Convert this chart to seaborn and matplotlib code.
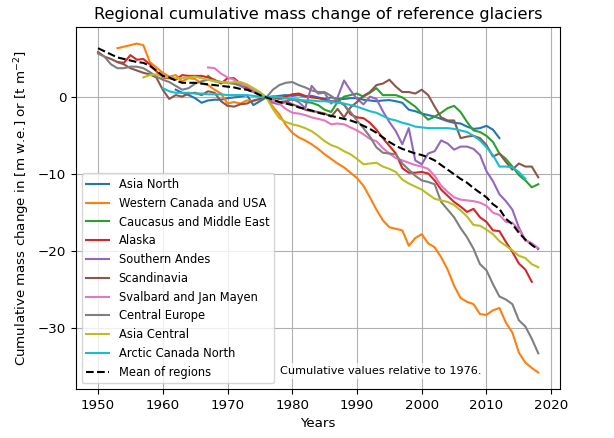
import numpy as np
import pandas as pd
import matplotlib
matplotlib.use("Agg")
import matplotlib.pyplot as plt
import seaborn as sns

# ---------------- data ----------------
regions = ["Asia North", "Western Canada and USA", "Caucasus and Middle East",
           "Alaska", "Southern Andes", "Scandinavia", "Svalbard and Jan Mayen",
           "Central Europe", "Asia Central", "Arctic Canada North"]

start_years = {
    "Asia North": 1962,
    "Western Canada and USA": 1953,
    "Caucasus and Middle East": 1967,
    "Alaska": 1953,
    "Southern Andes": 1976,
    "Scandinavia": 1950,
    "Svalbard and Jan Mayen": 1967,
    "Central Europe": 1950,
    "Asia Central": 1957,
    "Arctic Canada North": 1960,
}

asia_north = [1.0, 0.6, 0.3, -0.1, -0.7, -0.4, -0.3, -0.3, -0.1, 0.0,
              0.1, 0.3, -1.0, -0.5, 0.0, 0.1, 0.2, 0.3, 0.2, 0.3,
              0.1, 0.2, 0.0, -0.2, 0.0, -0.2, -0.2, -0.1, -0.1, -0.3,
              -0.4, -0.5, -0.4, -0.35, -0.5, -0.7, -1.6, -1.8, -2.1, -2.3,
              -2.5, -2.8, -3.1, -3.3, -3.4, -3.8, -4.1, -4.0, -3.7, -4.2,
              -5.3]
western_canada_usa = [6.4, 6.6, 6.8, 7.0, 6.8, 4.6, 3.9, 3.2, 2.7, 2.9,
                      2.1, 2.5, 2.4, 1.8, 1.6, 1.0, 0.5, -0.8, -0.6, -0.8,
                      -0.4, -0.5, -0.2, 0.0, -1.2, -2.2, -3.6, -4.6, -5.2, -5.6,
                      -6.1, -6.7, -7.4, -8.0, -8.6, -9.1, -9.8, -10.5, -11.5, -13.0,
                      -14.6, -16.0, -16.9, -17.1, -17.3, -19.3, -18.3, -17.8, -19.0, -19.5,
                      -20.8, -22.4, -24.5, -26.1, -26.6, -26.9, -28.2, -28.3, -27.7, -27.4,
                      -29.3, -30.6, -33.2, -34.5, -35.2, -35.8]
caucasus = [2.8, 2.1, 2.0, 1.9, 1.8, 1.6, 1.2, 0.8, 0.5, 0.0,
            0.0, -0.2, -0.1, -0.3, -0.3, -0.6, -0.7, -1.0, -1.6, -1.9,
            -0.6, 0.1, 0.3, 0.5, 0.1, 0.6, 1.2, 0.3, 0.3, 0.3,
            0.0, -0.6, -1.2, -2.1, -2.9, -2.5, -2.0, -1.4, -1.1, -1.9,
            -3.2, -4.3, -4.5, -5.0, -5.8, -7.3, -8.0, -9.0, -10.1, -10.8,
            -11.7, -11.3]
alaska = [4.6, 4.5, 5.5, 4.9, 5.0, 4.3, 3.4, 2.6, 2.5, 2.3,
          2.9, 2.8, 2.8, 2.8, 2.6, 2.3, 1.8, 2.5, 2.5, 1.8,
          1.3, 1.0, 0.6, 0.0, 0.1, -0.1, 0.1, 0.4, 0.5, 0.2,
          0.0, -0.1, -0.3, -0.5, -0.5, -0.9, -2.2, -2.6, -2.7, -3.3,
          -4.2, -5.3, -6.3, -7.3, -9.2, -9.8, -9.8, -9.7, -9.9, -10.8,
          -12.0, -12.8, -13.6, -14.2, -14.9, -14.5, -15.6, -16.2, -17.3, -17.4,
          -18.8, -20.1, -21.6, -22.4, -24.0]
southern_andes = [0.0, -0.7, -0.9, -0.6, -0.2, -0.6, -1.4, 1.5, 0.5, 0.6,
                  -0.8, 0.0, 2.2, 0.9, -0.2, -0.9, 0.1, -0.2, -1.8, -3.2,
                  -4.4, -6.1, -4.0, -8.2, -8.7, -7.3, -7.0, -5.6, -6.0, -6.8,
                  -6.4, -6.4, -6.7, -7.5, -9.6, -10.9, -12.6, -13.5, -14.6, -16.9,
                  -18.6, -19.0, -19.7]
scandinavia = [5.9, 5.3, 5.0, 4.6, 4.3, 3.8, 3.5, 3.2, 3.0, 2.6,
               1.0, -0.2, 0.3, 0.1, 0.5, 0.6, 0.3, 0.8, 0.6, -0.5,
               -1.1, -1.2, -0.9, -0.8, -0.4, -0.2, 0.0, -0.3, -0.6, -0.5,
               -0.9, -1.2, -1.6, -1.8, -1.9, -2.1, -2.5, -1.5, -2.6, -1.3,
               -0.6, 0.2, 0.7, 1.6, 1.8, 2.3, 1.4, 0.7, 0.7, 0.5,
               1.0, 0.3, -1.2, -2.6, -3.0, -3.0, -5.3, -5.1, -5.0, -5.3,
               -6.2, -7.7, -7.3, -8.4, -9.4, -8.6, -9.0, -9.0, -10.4]
svalbard = [3.9, 3.8, 3.1, 2.6, 2.3, 1.7, 1.5, 1.0, 0.5, 0.0,
            -0.4, -0.8, -1.5, -2.0, -2.1, -2.3, -2.6, -2.8, -3.0, -3.5,
            -3.4, -3.5, -3.9, -4.3, -4.8, -5.4, -5.7, -6.6, -7.3, -7.9,
            -8.2, -8.5, -8.8, -9.0, -9.3, -10.2, -11.5, -12.3, -13.0, -13.3,
            -13.4, -13.5, -13.7, -14.1, -15.0, -15.3, -16.2, -16.3, -17.2, -18.6,
            -19.0, -19.6]
central_europe = [5.7, 5.3, 4.3, 3.8, 3.8, 4.0, 4.0, 3.8, 3.3, 2.7,
                  2.3, 2.0, 1.5, 1.0, 1.2, 1.8, 2.1, 2.3, 2.2, 2.0,
                  1.9, 1.8, 1.5, 1.0, 0.7, 0.4, 0.0, 1.0, 1.6, 1.9,
                  2.0, 1.6, 1.3, 0.9, 0.7, 0.7, 0.2, -0.4, -1.0, -1.9,
                  -3.0, -4.0, -5.1, -6.5, -7.2, -7.3, -7.4, -8.6, -9.4, -10.2,
                  -10.8, -11.0, -11.3, -13.6, -14.6, -15.6, -17.0, -18.2, -19.7, -21.7,
                  -22.5, -24.3, -25.9, -26.3, -26.9, -29.0, -29.8, -31.4, -33.3]
asia_central = [2.6, 2.9, 3.0, 2.7, 2.6, 2.5, 2.5, 2.6, 2.7, 2.5,
                2.3, 2.1, 2.0, 1.9, 2.0, 2.0, 1.7, 1.2, 0.7, 0.0,
                -1.5, -2.7, -3.2, -3.5, -3.7, -4.0, -4.4, -5.0, -5.7, -6.2,
                -6.5, -7.0, -7.4, -8.0, -8.7, -8.6, -8.5, -9.0, -9.3, -9.7,
                -10.7, -11.2, -11.6, -12.0, -12.6, -13.2, -13.4, -13.6, -14.0, -14.7,
                -15.5, -16.6, -16.7, -17.2, -17.8, -18.7, -19.3, -19.9, -20.6, -20.9,
                -21.7, -22.1]
arctic_canada_north = [1.2, 0.8, 0.6, 0.6, 0.6, 0.5, 0.5, 0.4, 0.4, 0.4,
                       0.3, 0.3, 0.3, 0.3, 0.2, 0.1, 0.0, 0.1, 0.0, -0.1,
                       -0.2, -0.3, -0.4, -0.4, -0.5, -0.5, -0.6, -0.7, -0.8, -1.0,
                       -1.2, -1.5, -1.8, -2.0, -2.4, -2.8, -3.0, -3.3, -3.5, -3.8,
                       -3.9, -4.0, -4.0, -4.0, -4.0, -4.1, -4.3, -4.5, -5.0, -5.6,
                       -6.5, -7.5, -9.0, -9.0, -9.1, -9.7, -10.6]

mean_start = 1950
mean_of_regions = [6.4, 6.0, 5.6, 5.2, 5.0, 4.8, 4.6, 4.5, 4.1, 3.5,
                   2.8, 2.6, 2.2, 1.9, 1.9, 1.9, 1.8, 1.7, 1.6, 1.5,
                   1.4, 1.3, 1.1, 1.0, 0.7, 0.3, 0.0, -0.3, -0.6, -0.8,
                   -1.0, -1.3, -1.5, -1.7, -2.0, -2.2, -2.4, -2.6, -2.8, -3.0,
                   -3.3, -3.7, -4.1, -4.6, -5.2, -5.8, -6.3, -6.7, -7.0, -7.3,
                   -7.5, -7.8, -8.2, -8.8, -9.4, -10.0, -10.6, -11.1, -11.8, -12.4,
                   -13.0, -13.9, -14.5, -15.8, -16.5, -17.6, -18.5, -19.2, -19.8]

series_values = {
    "Asia North": asia_north,
    "Western Canada and USA": western_canada_usa,
    "Caucasus and Middle East": caucasus,
    "Alaska": alaska,
    "Southern Andes": southern_andes,
    "Scandinavia": scandinavia,
    "Svalbard and Jan Mayen": svalbard,
    "Central Europe": central_europe,
    "Asia Central": asia_central,
    "Arctic Canada North": arctic_canada_north,
}

x_ticks = [1950, 1960, 1970, 1980, 1990, 2000, 2010, 2020]
y_ticks = [0, -10, -20, -30]

# ---------------- figure ----------------
plt.rcParams["font.family"] = ["DejaVu Sans"]
plt.rcParams["font.size"] = 9.6

fig = plt.figure(figsize=(6.14, 4.38), dpi=100)
ax = fig.add_axes([0.1238, 0.1119, 0.9125 - 0.1238, 0.9380 - 0.1119])

palette = sns.color_palette("tab10", 10)

for i, name in enumerate(regions):
    vals = series_values[name]
    yrs = np.arange(start_years[name], start_years[name] + len(vals))
    df = pd.DataFrame({"Year": yrs, "Value": vals})
    sns.lineplot(data=df, x="Year", y="Value", ax=ax, color=palette[i],
                 linewidth=1.5, label=name, estimator=None, sort=True)

mean_df = pd.DataFrame({"Year": np.arange(mean_start, mean_start + len(mean_of_regions)),
                        "Value": mean_of_regions})
sns.lineplot(data=mean_df, x="Year", y="Value", ax=ax, color="black",
             linewidth=1.5, linestyle="--", label="Mean of regions", estimator=None)

ax.set_xticks(x_ticks)
ax.set_yticks(y_ticks)
ax.margins(x=0.05, y=0.05)
ax.grid(True, color="#b0b0b0", linewidth=0.8)
ax.set_axisbelow(True)

ax.set_title("Regional cumulative mass change of reference glaciers", fontsize=11.6)
ax.set_xlabel("Years")
ax.set_ylabel(r"Cumulative mass change in [m w.e.] or [t m$^{-2}$]")

ax.legend(loc="lower left", fontsize=8.3)

ax.text(0.421, 0.041, "Cumulative values relative to 1976.", transform=ax.transAxes,
        fontsize=8.1, ha="left", va="baseline",
        bbox=dict(facecolor="white", edgecolor="none", alpha=0.7, pad=2))

fig.savefig("out.png", dpi=100)
